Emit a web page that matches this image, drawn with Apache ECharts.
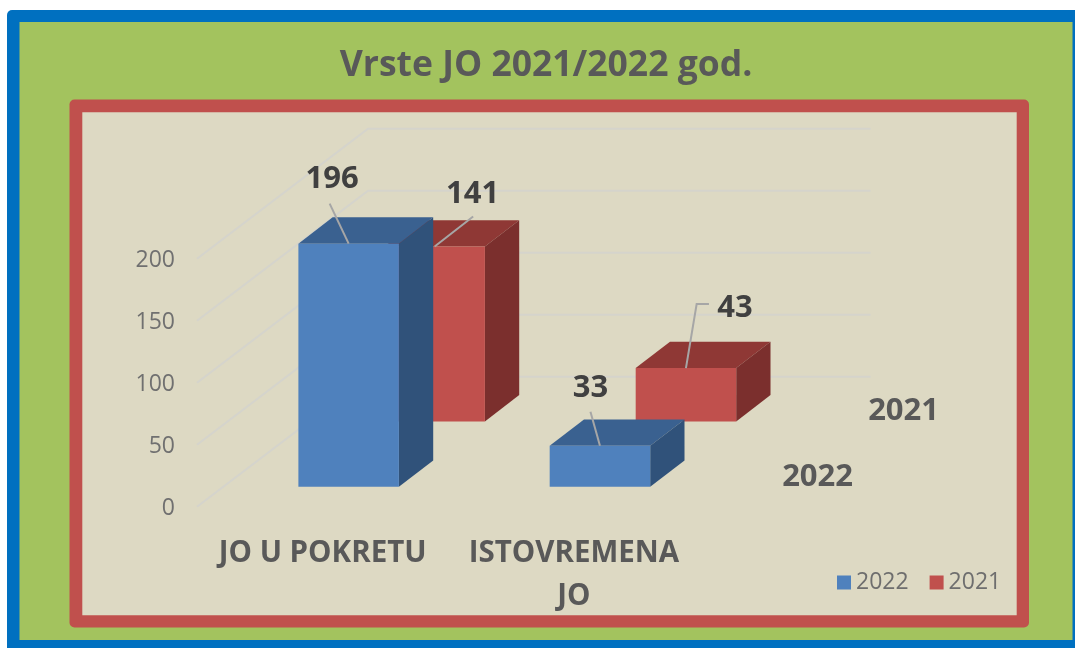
<!DOCTYPE html>
<html>
<head>
<meta charset="utf-8">
<title>Vrste JO 2021/2022 god.</title>
<style>
    html, body { margin: 0; padding: 0; background: #fff; }
    #chart { width: 1075px; height: 648px; }
</style>
<script src="https://cdn.jsdelivr.net/npm/echarts@6/dist/echarts.min.js"></script>
</head>
<body>
<div id="chart"></div>
<script>
// podaci
const categories = ['JO U POKRETU', 'ISTOVREMENA\nJO'];
const values2022 = [196, 33];
const values2021 = [141, 43];
const yTicks = [0, 50, 100, 150, 200];
const depthNames = ['2022', '2021'];

const FONT = '"Open Sans", sans-serif';

// 3d pomaci u pikselima: dubina zida, dubina stupca, pomak svakog reda
const wallDepth = [171, -130];
const barDepth = [34.3, -26.3];
const rowShift = { 2022: [26, -20], 2021: [112, -85.3] };
const barColors = {
    2022: { front: '#4F81BD', top: '#3A6190', side: '#30527A' },
    2021: { front: '#C0504D', top: '#8F3835', side: '#7B2F2D' }
};
// oznake vrijednosti: vodilica i tekst, relativno prema sredini vrha stupca
const valueLabels = {
    2022: [
        { line: [[-19, -40]], text: [-16.5, -64] },
        { line: [[-9.5, -34]], text: [-9.5, -57.5] }
    ],
    2021: [
        { line: [[38.5, -30]], text: [38, -52] },
        { line: [[10.7, -64], [23, -64]], text: [49, -60] }
    ]
};

function renderBar(name) {
    return function (params, api) {
        const shift = rowShift[name];
        const colors = barColors[name];
        const base = api.coord([api.value(0), 0]);
        const top = api.coord([api.value(0), api.value(1)]);
        const w = api.size([1, 0])[0] * 0.4;
        const cx = base[0] + shift[0];
        const x0 = cx - w / 2;
        const x1 = cx + w / 2;
        const y0 = top[1] + shift[1];
        const y1 = base[1] + shift[1];
        const dx = barDepth[0];
        const dy = barDepth[1];
        const label = valueLabels[name][params.dataIndex];
        const linePts = [[cx, y0]].concat(label.line.map(p => [cx + p[0], y0 + p[1]]));
        return {
            type: 'group',
            children: [
                {
                    type: 'polygon',
                    shape: { points: [[x0, y0], [x1, y0], [x1 + dx, y0 + dy], [x0 + dx, y0 + dy]] },
                    style: { fill: colors.top }
                },
                {
                    type: 'polygon',
                    shape: { points: [[x1, y0], [x1 + dx, y0 + dy], [x1 + dx, y1 + dy], [x1, y1]] },
                    style: { fill: colors.side }
                },
                {
                    type: 'rect',
                    shape: { x: x0, y: y0, width: w, height: y1 - y0 },
                    style: { fill: colors.front }
                },
                {
                    type: 'polyline',
                    shape: { points: linePts },
                    style: { stroke: '#A6A6A6', lineWidth: 2, fill: null }
                },
                {
                    type: 'text',
                    x: cx + label.text[0],
                    y: y0 + label.text[1],
                    style: {
                        text: String(api.value(1)),
                        fill: '#404040',
                        fontFamily: FONT,
                        fontWeight: 'bold',
                        fontSize: 31,
                        align: 'center',
                        verticalAlign: 'middle'
                    }
                }
            ]
        };
    };
}

// linije mreze: lijevi zid pa straznji zid
function renderWallLine(params, api) {
    const p = api.coord([0, api.value(1)]);
    const left = params.coordSys.x;
    const right = left + params.coordSys.width;
    return {
        type: 'polyline',
        shape: {
            points: [
                [left, p[1]],
                [left + wallDepth[0], p[1] + wallDepth[1]],
                [right + wallDepth[0], p[1] + wallDepth[1]]
            ]
        },
        style: { stroke: '#D5D4CC', lineWidth: 2, fill: null }
    };
}

// nazivi redova na desnoj strani
function renderDepthName(params, api) {
    const name = depthNames[params.dataIndex];
    const shift = rowShift[name];
    const p = api.coord([0, 0]);
    const right = params.coordSys.x + params.coordSys.width;
    return {
        type: 'text',
        x: right + shift[0] + 92,
        y: p[1] + shift[1] - 10,
        style: {
            text: name,
            fill: '#595959',
            fontFamily: FONT,
            fontWeight: 'bold',
            fontSize: 31,
            align: 'center',
            verticalAlign: 'middle'
        }
    };
}

const option = {
    animation: false,
    textStyle: { fontFamily: FONT },
    graphic: [
        { type: 'rect', z: -10, shape: { x: 7, y: 10, width: 1100, height: 660, r: 5 }, style: { fill: '#0070C0' } },
        { type: 'rect', z: -9, shape: { x: 19.5, y: 22, width: 1053, height: 618 }, style: { fill: '#A3C35E' } },
        { type: 'rect', z: -8, shape: { x: 69.5, y: 99.5, width: 959.5, height: 528, r: 5 }, style: { fill: '#C0504D' } },
        { type: 'rect', z: -7, shape: { x: 82.3, y: 112.3, width: 934.4, height: 503 }, style: { fill: '#DDD9C3' } }
    ],
    title: {
        text: 'Vrste JO 2021/2022 god.',
        left: 541,
        top: 43,
        textAlign: 'center',
        textStyle: { color: '#595959', fontFamily: FONT, fontWeight: 'bold', fontSize: 35.5 }
    },
    legend: {
        data: ['2022', '2021'],
        left: 832,
        top: 566,
        icon: 'rect',
        itemWidth: 14,
        itemHeight: 14,
        itemGap: 21,
        textStyle: { color: '#6E6E6E', fontFamily: FONT, fontSize: 23 }
    },
    grid: { left: 197, top: 258.7, width: 502.6, height: 248 },
    xAxis: {
        type: 'category',
        data: categories,
        axisLine: { show: false },
        axisTick: { show: false },
        axisLabel: {
            interval: 0,
            margin: 25,
            lineHeight: 43,
            color: '#595959',
            fontFamily: FONT,
            fontWeight: 'bold',
            fontSize: 29.5
        }
    },
    yAxis: {
        type: 'value',
        min: 0,
        max: 200,
        interval: 50,
        axisLine: { show: false },
        axisTick: { show: false },
        splitLine: { show: false },
        axisLabel: {
            margin: 22,
            formatter: '{a|{value}}',
            rich: { a: { padding: [4, 0, 0, 0], color: '#707070', fontFamily: FONT, fontSize: 23 } }
        }
    },
    series: [
        {
            name: 'zid',
            type: 'custom',
            z: 1,
            renderItem: renderWallLine,
            encode: { x: 0, y: 1 },
            data: yTicks.map(v => [categories[0], v]),
            silent: true
        },
        {
            name: 'redovi',
            type: 'custom',
            z: 1,
            renderItem: renderDepthName,
            encode: { x: 0, y: 1 },
            data: depthNames.map(() => [categories[0], 0]),
            silent: true
        },
        {
            name: '2021',
            type: 'custom',
            z: 2,
            renderItem: renderBar('2021'),
            itemStyle: { color: barColors[2021].front },
            encode: { x: 0, y: 1 },
            data: categories.map((c, i) => [c, values2021[i]])
        },
        {
            name: '2022',
            type: 'custom',
            z: 3,
            renderItem: renderBar('2022'),
            itemStyle: { color: barColors[2022].front },
            encode: { x: 0, y: 1 },
            data: categories.map((c, i) => [c, values2022[i]])
        }
    ]
};

const myChart = echarts.init(document.getElementById('chart'));
myChart.setOption(option);
</script>
</body>
</html>
